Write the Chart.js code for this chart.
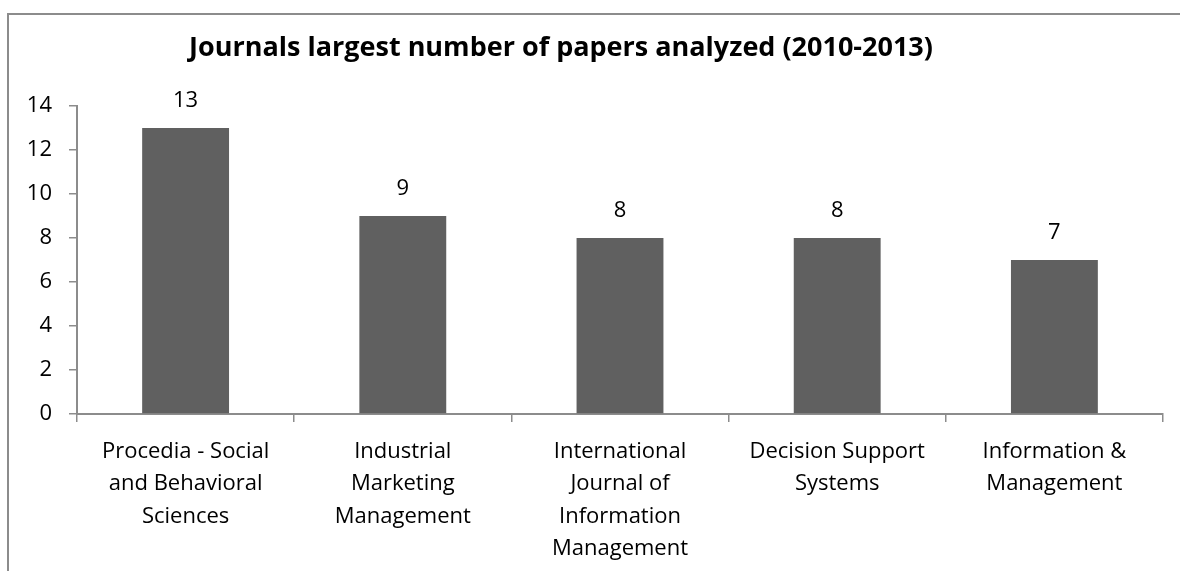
<!DOCTYPE html>
<html>
<head>
<meta charset="utf-8">
<script src="https://cdn.jsdelivr.net/npm/chart.js@4.4.1/dist/chart.umd.min.js"></script>
<style>
  html, body { margin: 0; padding: 0; background: #fff; }
  #wrap { position: relative; width: 1180px; height: 571px; overflow: hidden; }
  #frame {
    position: absolute; left: 7px; top: 13px; width: 1200px; height: 600px;
    border-left: 2px solid #8c8c8c; border-top: 2px solid #8c8c8c;
    pointer-events: none;
  }
</style>
</head>
<body>
<div id="wrap">
  <canvas id="chart" width="1180" height="571"></canvas>
  <div id="frame"></div>
</div>
<script>
// journals and number of papers
const journals = [
  ['Procedia - Social', 'and Behavioral', 'Sciences'],
  ['Industrial', 'Marketing', 'Management'],
  ['International', 'Journal of', 'Information', 'Management'],
  ['Decision Support', 'Systems'],
  ['Information &', 'Management']
];
const papers = [13, 9, 8, 8, 7];
const yTicks = [0, 2, 4, 6, 8, 10, 12, 14];
const chartTitle = 'Journals largest number of papers analyzed (2010-2013)';

const FONT = '"Open Sans", Lato, sans-serif';
const axisGray = '#8c8c8c';

// title drawn a bit left of the plot centre, like the original
const titlePlugin = {
  id: 'titleLeft',
  afterDraw(chart) {
    const ctx = chart.ctx;
    ctx.save();
    ctx.font = 'bold 27px ' + FONT;
    ctx.fillStyle = '#000';
    ctx.textAlign = 'center';
    ctx.textBaseline = 'middle';
    ctx.fillText(chartTitle, 561, 48);
    ctx.restore();
  }
};

// value above each bar
const valuePlugin = {
  id: 'barValues',
  afterDatasetsDraw(chart) {
    const ctx = chart.ctx;
    const meta = chart.getDatasetMeta(0);
    ctx.save();
    ctx.font = '22px ' + FONT;
    ctx.fillStyle = '#000';
    ctx.textAlign = 'center';
    ctx.textBaseline = 'middle';
    meta.data.forEach((bar, i) => {
      ctx.fillText(String(papers[i]), bar.x, bar.y - 27);
    });
    ctx.restore();
  }
};

let ctx = document.getElementById('chart').getContext('2d');

new Chart(ctx, {
  type: 'bar',
  data: {
    labels: journals,
    datasets: [{
      data: papers,
      backgroundColor: '#606060',
      borderWidth: 0,
      barPercentage: 0.4,
      categoryPercentage: 1.0
    }]
  },
  options: {
    responsive: false,
    animation: false,
    layout: { padding: { top: 106, right: 17, bottom: 0, left: 0 } },
    plugins: {
      legend: { display: false },
      title: { display: false },
      tooltip: { enabled: false }
    },
    scales: {
      x: {
        grid: {
          offset: true,
          drawOnChartArea: false,
          drawTicks: true,
          tickLength: 8,
          color: axisGray,
          lineWidth: 1.5
        },
        border: { color: axisGray, width: 2 },
        ticks: {
          color: '#000',
          padding: 13,
          maxRotation: 0,
          autoSkip: false,
          font: { family: FONT, size: 22, lineHeight: 1.48 }
        },
        afterFit(scale) { scale.height = 157; }
      },
      y: {
        min: 0,
        max: 14,
        afterBuildTicks(scale) { scale.ticks = yTicks.map(v => ({ value: v })); },
        grid: {
          drawOnChartArea: false,
          drawTicks: true,
          tickLength: 8,
          color: axisGray,
          lineWidth: 1.5
        },
        border: { color: axisGray, width: 2 },
        ticks: {
          color: '#000',
          padding: 17,
          font: { family: FONT, size: 22 }
        },
        afterFit(scale) { scale.width = 77; }
      }
    }
  },
  plugins: [titlePlugin, valuePlugin]
});
</script>
</body>
</html>
